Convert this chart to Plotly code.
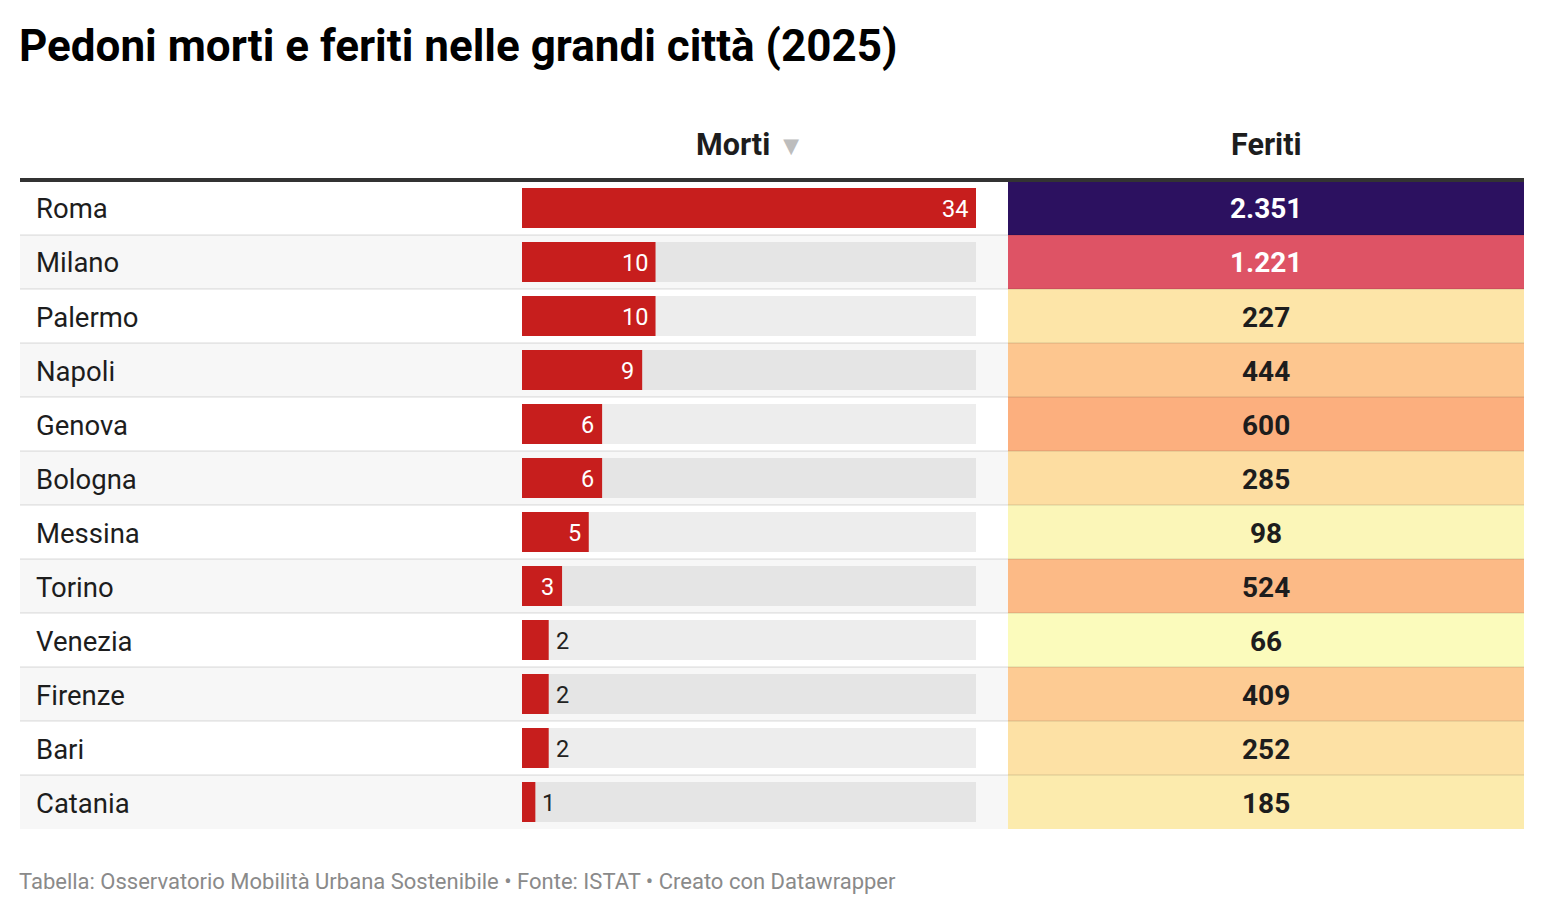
import plotly.graph_objects as go

# dati (ISTAT 2025, pedoni)
citta = ["Roma", "Milano", "Palermo", "Napoli", "Genova", "Bologna",
         "Messina", "Torino", "Venezia", "Firenze", "Bari", "Catania"]
morti = [34, 10, 10, 9, 6, 6, 5, 3, 2, 2, 2, 1]
feriti = [2351, 1221, 227, 444, 600, 285, 98, 524, 66, 409, 252, 185]

# la pagina ha 8px di margine nel body: la figura parte da (8, 8)
OFF = 8
W, H = 1544 - OFF, 914 - OFF
FONT = "Roboto"
righe = list(range(len(citta)))
massimo = max(morti)


def px_x(x):
    return (x - OFF) / W


def px_y(y):
    return 1 - (y - OFF) / H


fig = go.Figure()

# barra di sfondo grigia
fig.add_trace(go.Bar(
    y=righe, x=[massimo] * len(citta), orientation="h",
    marker=dict(color="rgba(0,0,0,0.07)", line=dict(width=0)),
    width=0.74, hoverinfo="skip", xaxis="x", yaxis="y",
))

# morti
fig.add_trace(go.Bar(
    y=righe, x=morti, orientation="h",
    marker=dict(color="#c71e1d", line=dict(width=0)),
    width=0.74, hoverinfo="skip", xaxis="x", yaxis="y",
))

# feriti come heatmap
scala = [[0.0, "#fbfbbc"], [0.015, "#fbf6b8"], [0.07, "#fde5a8"],
         [0.165, "#fdc68f"], [0.235, "#fcaf7e"], [0.5, "#e05465"],
         [1.0, "#2c1160"]]
fig.add_trace(go.Heatmap(
    x=[0], y=righe, z=[[v] for v in feriti],
    colorscale=scala, showscale=False, hoverinfo="skip",
    xaxis="x2", yaxis="y",
))

shapes = []
# righe alternate
for i in righe:
    shapes.append(dict(
        type="rect", xref="paper", yref="y", layer="below",
        x0=px_x(20), x1=px_x(1008), y0=i - 0.5, y1=i + 0.5,
        fillcolor="#ffffff" if i % 2 == 0 else "#f7f7f7", line=dict(width=0),
    ))
# separatori
for i in righe[:-1]:
    shapes.append(dict(
        type="line", xref="paper", yref="y", layer="above",
        x0=px_x(20), x1=px_x(1524), y0=i + 0.5, y1=i + 0.5,
        line=dict(color="rgba(0,0,0,0.07)", width=2),
    ))
# linea d'intestazione
shapes.append(dict(
    type="line", xref="paper", yref="paper",
    x0=px_x(20), x1=px_x(1524), y0=px_y(180), y1=px_y(180),
    line=dict(color="#333333", width=4),
))

annotations = []
for i, c in enumerate(citta):
    annotations.append(dict(
        text=c, xref="paper", yref="y", x=px_x(34), y=i,
        xanchor="left", yanchor="middle", showarrow=False, yshift=-1,
        font=dict(family=FONT, size=27.5, color="#1d1d1d"),
    ))

# etichette delle barre
for i, v in enumerate(morti):
    dentro = v >= 3
    annotations.append(dict(
        text=str(v), xref="x", yref="y", x=v, y=i,
        xanchor="right" if dentro else "left", yanchor="middle",
        xshift=-6 if dentro else 5, yshift=-1, showarrow=False,
        font=dict(family=FONT, size=23.5, color="white" if dentro else "#222"),
    ))

# numeri dei feriti
for i, v in enumerate(feriti):
    annotations.append(dict(
        text="<b>" + f"{v:,}".replace(",", ".") + "</b>",
        xref="x2", yref="y", x=0, y=i,
        xanchor="center", yanchor="middle", yshift=-1, showarrow=False,
        font=dict(family=FONT, size=28, color="white" if v > 1000 else "#1d1d1d"),
    ))

annotations += [
    dict(text="<b>Pedoni morti e feriti nelle grandi città (2025)</b>",
         xref="paper", yref="paper", x=px_x(17), y=px_y(46),
         xanchor="left", yanchor="middle", showarrow=False,
         font=dict(family=FONT, size=44, color="#000")),
    dict(text="<b>Morti</b> <span style='color:#bdbdbd;font-size:27px'>▼</span>",
         xref="paper", yref="paper", x=px_x(750), y=px_y(144),
         xanchor="center", yanchor="middle", showarrow=False,
         font=dict(family=FONT, size=30.5, color="#1d1d1d")),
    dict(text="<b>Feriti</b>",
         xref="paper", yref="paper", x=px_x(1266), y=px_y(144),
         xanchor="center", yanchor="middle", showarrow=False,
         font=dict(family=FONT, size=30.5, color="#1d1d1d")),
    dict(text="Tabella: Osservatorio Mobilità Urbana Sostenibile • Fonte: ISTAT • Creato con Datawrapper",
         xref="paper", yref="paper", x=px_x(17), y=px_y(881),
         xanchor="left", yanchor="middle", showarrow=False,
         font=dict(family=FONT, size=22, color="#8a8a8a")),
]

fig.update_layout(
    width=W, height=H,
    margin=dict(l=0, r=0, t=0, b=0),
    paper_bgcolor="white", plot_bgcolor="rgba(0,0,0,0)",
    barmode="overlay", showlegend=False,
    xaxis=dict(domain=[px_x(522), px_x(976)], range=[0, massimo],
               visible=False, fixedrange=True),
    xaxis2=dict(domain=[px_x(1008), px_x(1524)], range=[-0.5, 0.5],
                visible=False, fixedrange=True),
    yaxis=dict(domain=[px_y(829), px_y(181)], range=[len(citta) - 0.5, -0.5],
               visible=False, fixedrange=True),
    shapes=shapes, annotations=annotations,
    font=dict(family=FONT),
)

fig.write_html("out.html", config={"displayModeBar": False})
